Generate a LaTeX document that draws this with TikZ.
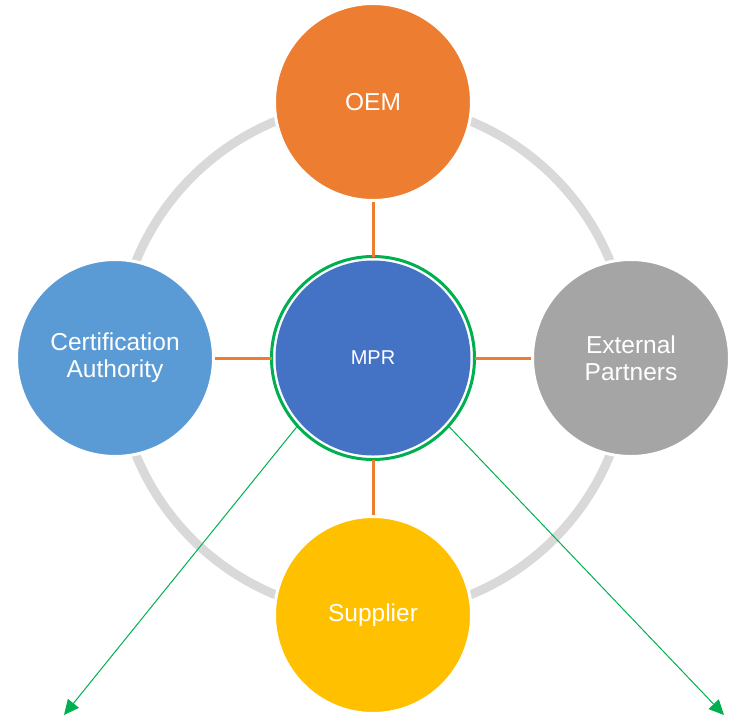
\documentclass[tikz,border=0pt]{standalone}
\usepackage{fontspec}
\setmainfont{Liberation Sans}
\usepackage{tikz}
\usetikzlibrary{positioning}
\usetikzlibrary{arrows.meta}

\definecolor{oemOrange}{HTML}{ED7D31}
\definecolor{certBlue}{HTML}{5B9BD5}
\definecolor{extGray}{HTML}{A5A5A5}
\definecolor{supYellow}{HTML}{FFC000}
\definecolor{mprBlue}{HTML}{4472C4}
\definecolor{linkGreen}{HTML}{00B050}
\definecolor{ringGray}{HTML}{D9D9D9}

\begin{document}
\begin{tikzpicture}[x=1pt, y=-1pt,
		party/.style={circle, draw=white, line width=3pt, minimum size=197pt, inner sep=0pt, text=white, align=center, font=\fontsize{24.5}{27}\selectfont},
		link/.style={draw=oemOrange, line width=3pt},
		flow/.style={draw=linkGreen, line width=1pt, -{Triangle[length=15pt, width=14pt]}}]
		\useasboundingbox (0,0) rectangle (748,721);

		% ring behind the parties
		\coordinate (hub) at (373,358);
		\draw[ringGray, line width=9pt] (hub) circle (256pt);

		\node[party, fill=oemOrange](oem) at (373,102){OEM};
		\node[party, fill=certBlue](cert) at (115,358){Certification\\Authority};
		\node[party, fill=extGray](ext) at (631,358){External\\Partners};
		\node[party, fill=supYellow](sup) at (373,615){Supplier};

		\node[circle, fill=mprBlue, minimum size=195pt, inner sep=0pt, text=white, font=\fontsize{20}{22}\selectfont](mpr) at (hub){MPR};
		\node[circle, draw=linkGreen, line width=3pt, minimum size=203pt, inner sep=0pt, outer sep=0pt](mprRing) at (hub){};

		% draw links to MPR
		\draw[link] (oem) -- (mprRing);
		\draw[link] (cert) -- (mprRing);
		\draw[link] (ext) -- (mprRing);
		\draw[link] (sup) -- (mprRing);

		% draw outgoing arrows
		\coordinate (outLeft) at (64,715);
		\coordinate (outRight) at (724,715);
		\draw[flow] (mprRing.222) -- (outLeft);
		\draw[flow] (mprRing.318) -- (outRight);

	\end{tikzpicture}
\end{document}
